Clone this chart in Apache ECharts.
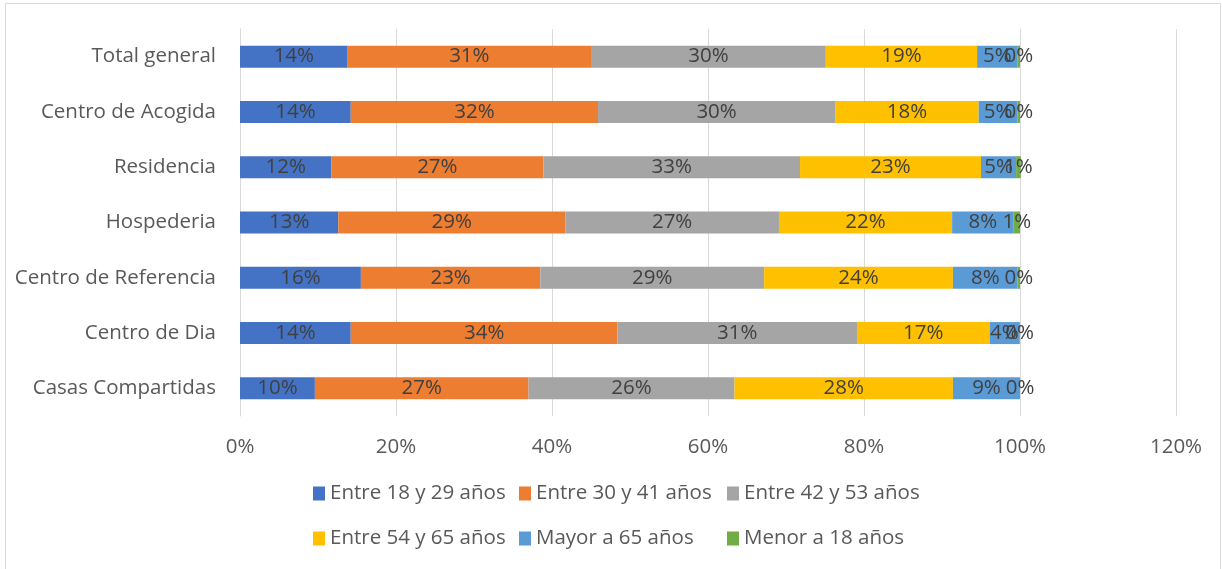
<!DOCTYPE html>
<html>
<head>
<meta charset="utf-8">
<script src="https://cdn.jsdelivr.net/npm/echarts@6/dist/echarts.min.js"></script>
<style>
html,body{margin:0;padding:0;background:#fff;}
#chart{width:1222px;height:569px;}
</style>
</head>
<body>
<div id="chart"></div>
<script>
const categories = ["Total general","Centro de Acogida","Residencia","Hospederia","Centro de Referencia","Centro de Dia","Casas Compartidas"];
const seriesNames = ["Entre 18 y 29 años","Entre 30 y 41 años","Entre 42 y 53 años","Entre 54 y 65 años","Mayor a 65 años","Menor a 18 años"];
const entre18y29 = [13.8, 14.2, 11.7, 12.6, 15.5, 14.2, 9.6];
const entre30y41 = [31.2, 31.7, 27.2, 29.1, 23.0, 34.2, 27.4];
const entre42y53 = [30.1, 30.4, 32.9, 27.4, 28.7, 30.7, 26.4];
const entre54y65 = [19.4, 18.4, 23.2, 22.2, 24.2, 17.0, 28.0];
const mayor65 = [5.2, 5.0, 4.5, 7.9, 8.3, 3.8, 8.6];
const menor18 = [0.3, 0.3, 0.6, 0.8, 0.3, 0.1, 0.0];
const xTicks = {min: 0, max: 120, interval: 20};
const colors = ["#4472C4","#ED7D31","#A5A5A5","#FFC000","#5B9BD5","#70AD47"];
const allData = [entre18y29, entre30y41, entre42y53, entre54y65, mayor65, menor18];

const FONT = "'Open Sans', sans-serif";
const FS = 20.5;

const chart = echarts.init(document.getElementById('chart'), null, {renderer:'canvas'});
const series = seriesNames.map((name, i) => ({
  name: name,
  type: 'bar',
  stack: 'total',
  barWidth: 22,
  data: allData[i],
  itemStyle: {color: colors[i]},
  label: {
    show: true,
    position: 'inside',
    color: '#404040',
    fontFamily: FONT,
    fontSize: FS,
    formatter: p => Math.round(p.value) + '%'
  },
  labelLayout: {hideOverlap: false},
  emphasis: {disabled: true},
  animation: false
}));

const legendLefts = [313, 519, 727];
const legendTops = [483, 528];
const legends = seriesNames.map((name, i) => ({
  left: legendLefts[i % 3],
  top: legendTops[Math.floor(i / 3)],
  padding: 0,
  orient: 'horizontal',
  icon: 'rect',
  itemWidth: 12,
  itemHeight: 14,
  selectedMode: false,
  data: [name],
  textStyle: {color: '#595959', fontFamily: FONT, fontSize: FS}
}));

chart.setOption({
  animation: false,
  backgroundColor: '#fff',
  grid: {left: 240, right: 46, top: 29, bottom: 153, containLabel: false},
  xAxis: {
    type: 'value',
    min: xTicks.min, max: xTicks.max, interval: xTicks.interval,
    axisLine: {show: false},
    axisTick: {show: false},
    splitLine: {show: true, lineStyle: {color: '#D9D9D9', width: 1}},
    axisLabel: {formatter: '{value}%', color: '#595959', fontFamily: FONT, fontSize: FS, margin: 21}
  },
  yAxis: {
    type: 'category',
    data: categories,
    inverse: true,
    axisLine: {show: true, lineStyle: {color: '#D9D9D9', width: 1}},
    axisTick: {show: false},
    axisLabel: {color: '#595959', fontFamily: FONT, fontSize: FS, margin: 24}
  },
  legend: legends,
  graphic: [{
    type: 'rect',
    shape: {x: 5.5, y: 3.5, width: 1215, height: 600},
    style: {fill: 'none', stroke: '#D9D9D9', lineWidth: 1},
    silent: true,
    z: -1
  }],
  series: series
});
</script>
</body>
</html>
